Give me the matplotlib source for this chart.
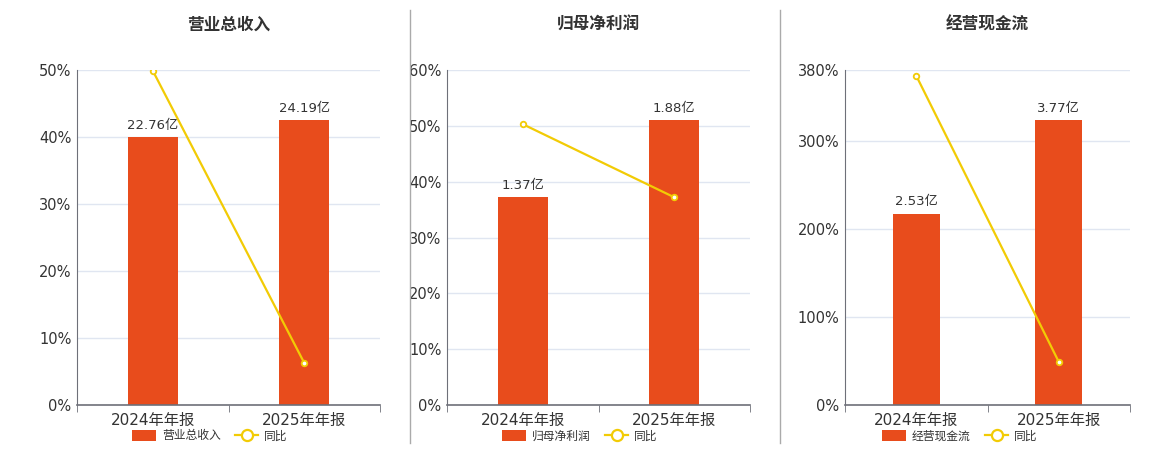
import matplotlib
matplotlib.use("Agg")
import matplotlib.pyplot as plt
from matplotlib.lines import Line2D
from matplotlib.patches import Patch
from matplotlib.ticker import FuncFormatter, FixedLocator

plt.rcParams['font.family'] = ['DejaVu Sans', 'Noto Sans CJK SC']

years = ['2024年年报', '2025年年报']
titles = ['营业总收入', '归母净利润', '经营现金流']
bar_vals = [[22.76, 24.19], [1.37, 1.88], [2.53, 3.77]]
yoy_vals = [[49.9, 6.28], [50.3, 37.2], [373.5, 49.0]]
pct_ticks = [[0, 10, 20, 30, 40, 50], [0, 10, 20, 30, 40, 50, 60], [0, 100, 200, 300, 380]]

bar_color = '#E84C1C'
line_color = '#F2CB05'
text_color = '#333333'

W, H = 1160, 450
fig = plt.figure(figsize=(W / 100, H / 100), dpi=100)
panels = [(77, 380), (447, 750), (845, 1130)]
legend_x = [210, 580, 960]
top, bottom = 70, 405

for i in range(3):
    l, r = panels[i]
    ax = fig.add_axes([l / W, 1 - bottom / H, (r - l) / W, (bottom - top) / H])
    x = [0, 1]
    # bars on their own scale, grid under them
    ax.bar(x, bar_vals[i], width=0.33, color=bar_color, zorder=2)
    ax.set_ylim(0, max(bar_vals[i]) / 0.85)
    for xi, v in zip(x, bar_vals[i]):
        ax.annotate('%.2f亿' % v, (xi, v), xytext=(0, 4), textcoords='offset points',
                    ha='center', va='bottom', fontsize=9.5, color=text_color,
                    family=['DejaVu Sans', 'Noto Sans CJK SC'])
    pct = pct_ticks[i][-1]
    bmax = max(bar_vals[i]) / 0.85
    ax.yaxis.set_major_locator(FixedLocator([t / pct * bmax for t in pct_ticks[i]]))
    ax.yaxis.set_major_formatter(FuncFormatter(lambda v, p, pct=pct, bmax=bmax: '%d%%' % round(v / bmax * pct)))
    ax.grid(axis='y', color='#E0E6F1', lw=1, zorder=0)
    ax.set_axisbelow(True)

    ax2 = ax.twinx()
    ax2.plot(x, yoy_vals[i], color=line_color, lw=1.6, marker='o', ms=4,
             mfc='white', mec=line_color, mew=1.3, zorder=3)
    ax2.set_ylim(0, pct)
    ax2.axis('off')

    ax.set_xlim(-0.5, 1.5)
    ax2.set_xlim(-0.5, 1.5)
    ax.set_xticks(x)
    ax.set_xticklabels(years, fontsize=11, color=text_color,
                       family=['DejaVu Sans', 'Noto Sans CJK SC'])
    ax.xaxis.set_minor_locator(FixedLocator([-0.5, 0.5, 1.5]))
    ax.tick_params(axis='x', which='major', length=0, pad=6)
    ax.tick_params(axis='x', which='minor', length=5, color='#6E7079')
    ax.tick_params(axis='y', length=0, labelsize=10.5, labelcolor=text_color, pad=4)
    for s in ['top', 'right']:
        ax.spines[s].set_visible(False)
    ax.spines['left'].set_color('#6E7079')
    ax.spines['bottom'].set_color('#6E7079')
    ax.spines['bottom'].set_linewidth(1.2)
    ax.set_title(titles[i], fontsize=12, fontweight='bold', color=text_color,
                 family=['Noto Sans CJK SC', 'DejaVu Sans'], pad=29)
    handles = [Patch(facecolor=bar_color, edgecolor='none'),
               Line2D([], [], color=line_color, lw=1.6, marker='o', ms=8,
                      mfc='white', mec=line_color, mew=1.6)]
    fig.legend(handles, [titles[i], '同比'], loc='center',
               bbox_to_anchor=(legend_x[i] / W, 1 - 436 / H), ncol=2, frameon=False,
               prop={'family': ['Noto Sans CJK SC', 'DejaVu Sans'], 'size': 8.5},
               labelcolor=text_color, handlelength=2.0, handleheight=1.1,
               columnspacing=1.2, handletextpad=0.5)

for xs in [410, 780]:
    fig.add_artist(Line2D([xs / W, xs / W], [1 - 443 / H, 1 - 10 / H], color='#AAAAAA', lw=1))

fig.savefig('out.png', dpi=100, facecolor='white')
